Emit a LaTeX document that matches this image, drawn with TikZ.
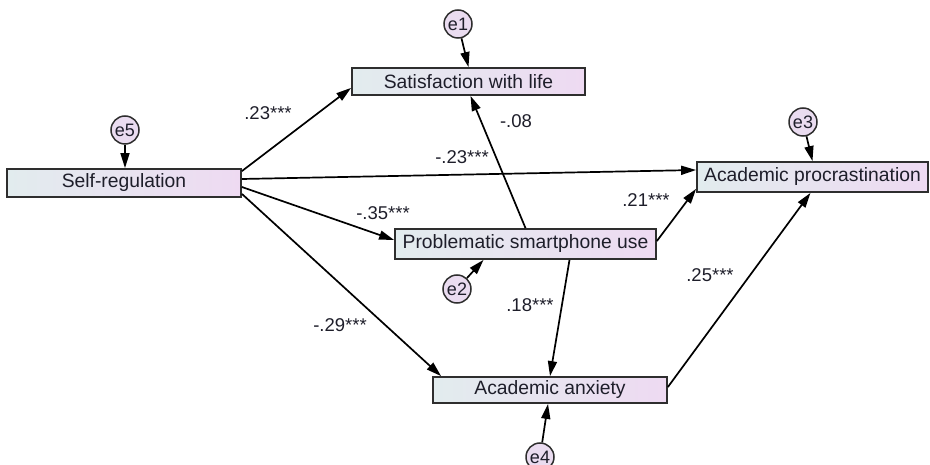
\documentclass[tikz,border=0pt]{standalone}
\usepackage{fontspec}
\setmainfont{Liberation Sans}
\usetikzlibrary{calc,arrows.meta,shapes.geometric}
\definecolor{boxleft}{HTML}{E2ECEE}
\definecolor{boxright}{HTML}{EEDAF2}
\definecolor{circfill}{HTML}{EADCF0}
\definecolor{ink}{HTML}{1E1E2A}
\definecolor{edge}{HTML}{2E2E2E}
\begin{document}
\begin{tikzpicture}[x=1pt,y=-1pt,
  var/.style={draw=edge,line width=1.8pt,rectangle,inner sep=0pt,
    left color=boxleft,right color=boxright,text=ink,
    font=\fontsize{19.3}{22}\selectfont},
  err/.style={draw=edge,line width=1.5pt,circle,minimum size=28pt,inner sep=0pt,
    fill=circfill,text=ink,font=\fontsize{18}{20}\selectfont},
  arr/.style={draw=black,line width=1.7pt,-{Triangle[length=15pt,width=9pt]}},
  lbl/.style={text=ink,font=\fontsize{18.5}{20}\selectfont,inner sep=0pt}]
\useasboundingbox (0,0) rectangle (930,465);
% boxes
\node[var,minimum width=234pt,minimum height=28pt] (SR) at (124,183) {Self-regulation};
\node[var,minimum width=233pt,minimum height=27pt] (SWL) at (468.5,81.5) {Satisfaction with life};
\node[var,minimum width=261pt,minimum height=30pt] (PSU) at (525.5,244) {Problematic smartphone use};
\node[var,minimum width=234pt,minimum height=26pt] (AA) at (550,390) {Academic anxiety};
\node[var,minimum width=231pt,minimum height=30pt] (AP) at (812.5,177) {Academic procrastination};
% errors
\node[err] (e5) at (125,130) {e5};
\node[err] (e1) at (458,24) {e1};
\node[err] (e2) at (457,289) {e2};
\node[err] (e3) at (803,122) {e3};
\node[err] (e4) at (540,457) {e4};
% error arrows
\draw[arr] (e5) -- (SR.north -| e5);
\draw[arr] (e1) -- (SWL.north);
\draw[arr] (e2) -- ($(PSU.south)+(-42,0)$);
\draw[arr] (e3) -- (AP.north);
\draw[arr] (e4) -- ($(AA.south)+(-2,0)$);
% paths
\draw[arr] ($(SR.north east)+(0,3)$) -- ($(SWL.south west)+(0,-8)$);
\draw[arr] ($(SR.east)+(0,-4)$) -- ($(AP.west)+(0,-7)$);
\draw[arr] ($(SR.east)+(0,4)$) -- ($(PSU.west)+(0,-4)$);
\draw[arr] ($(SR.south east)+(0,-4)$) -- ($(AA.north west)+(9,0)$);
\draw[arr] (PSU.north) -- ($(SWL.south)+(2,0)$);
\draw[arr] ($(PSU.east)+(0,-3)$) -- ($(AP.south west)+(0,-4)$);
\draw[arr] ($(PSU.south)+(44,0)$) -- (AA.north);
\draw[arr] ($(AA.east)+(0,-3)$) -- ($(AP.south)+(-2,0)$);
% labels
\node[lbl] (l1) at (268,113) {.23***};
\node[lbl] (l2) at (462,157) {-.23***};
\node[lbl] (l3) at (383,213) {-.35***};
\node[lbl] (l4) at (340,325) {-.29***};
\node[lbl] (l5) at (516,121) {-.08};
\node[lbl] (l6) at (646,200) {.21***};
\node[lbl] (l7) at (530,305) {.18***};
\node[lbl] (l8) at (710,275) {.25***};
\end{tikzpicture}
\end{document}
